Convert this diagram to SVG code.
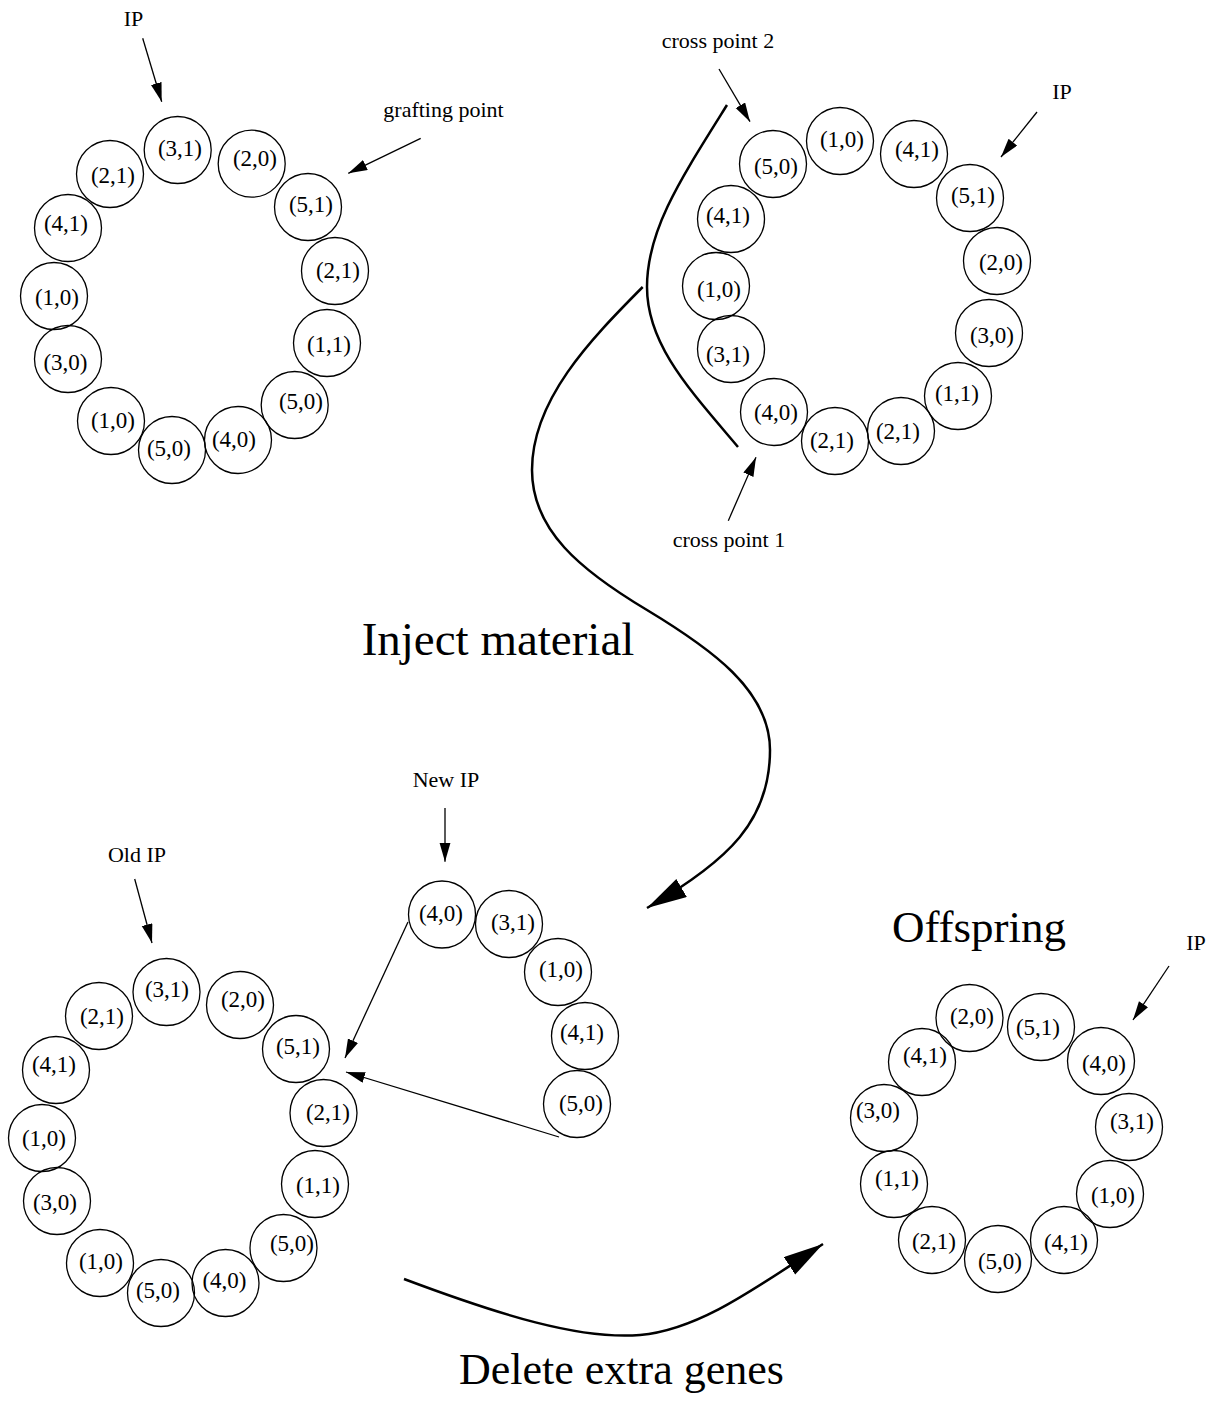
<svg xmlns="http://www.w3.org/2000/svg" width="1218" height="1417" viewBox="0 0 1218 1417">
<defs>
<style>
.g circle{fill:none;stroke:#000;stroke-width:1.3}
text{font-family:"Liberation Serif","Times New Roman",serif;fill:#000;text-anchor:middle}
.g text{font-size:23px}
.lbl{font-size:22px}
.big{font-size:47px}
.thin{fill:none;stroke:#000;stroke-width:1.3}
.thick{fill:none;stroke:#000;stroke-width:2.5}
</style>
<marker id="ah" markerUnits="userSpaceOnUse" markerWidth="20" markerHeight="12" refX="19" refY="5.5" orient="auto"><path d="M0,0 L19,5.5 L0,11 z" fill="#000"/></marker>
<marker id="ahb" markerUnits="userSpaceOnUse" markerWidth="42" markerHeight="22" refX="40" refY="10.5" orient="auto"><path d="M0,0 L40,10.5 L0,21 z" fill="#000"/></marker>
</defs>
<rect width="1218" height="1417" fill="#fff"/>

<g id="ring-parent1" class="g">
<circle cx="177.7" cy="150" r="33.5"/><text x="180" y="156">(3,1)</text>
<circle cx="251.7" cy="163.7" r="33.5"/><text x="255" y="166">(2,0)</text>
<circle cx="308" cy="207" r="33.5"/><text x="311" y="212">(5,1)</text>
<circle cx="335" cy="271" r="33.5"/><text x="338" y="278">(2,1)</text>
<circle cx="327" cy="343" r="33.5"/><text x="329" y="352">(1,1)</text>
<circle cx="294.7" cy="405" r="33.5"/><text x="301" y="409">(5,0)</text>
<circle cx="238" cy="440" r="33.5"/><text x="234" y="447">(4,0)</text>
<circle cx="172" cy="450" r="33.5"/><text x="169" y="456">(5,0)</text>
<circle cx="111" cy="421" r="33.5"/><text x="113" y="428">(1,0)</text>
<circle cx="68" cy="359" r="33.5"/><text x="65.5" y="370">(3,0)</text>
<circle cx="54" cy="296" r="33.5"/><text x="57" y="305">(1,0)</text>
<circle cx="68" cy="228" r="33.5"/><text x="66" y="231">(4,1)</text>
<circle cx="110" cy="174" r="33.5"/><text x="113" y="183">(2,1)</text>
</g>

<g id="ring-parent2" class="g">
<circle cx="773" cy="164" r="33.5"/><text x="776" y="174">(5,0)</text>
<circle cx="840" cy="141" r="33.5"/><text x="842" y="147">(1,0)</text>
<circle cx="914" cy="154" r="33.5"/><text x="917" y="157">(4,1)</text>
<circle cx="970" cy="198" r="33.5"/><text x="973" y="203">(5,1)</text>
<circle cx="997" cy="261" r="33.5"/><text x="1001" y="270">(2,0)</text>
<circle cx="989" cy="333" r="33.5"/><text x="992" y="343">(3,0)</text>
<circle cx="958" cy="396" r="33.5"/><text x="957" y="401">(1,1)</text>
<circle cx="901" cy="431" r="33.5"/><text x="898" y="439">(2,1)</text>
<circle cx="835" cy="441" r="33.5"/><text x="832" y="448">(2,1)</text>
<circle cx="774" cy="412" r="33.5"/><text x="776" y="420">(4,0)</text>
<circle cx="731" cy="349" r="33.5"/><text x="728" y="362">(3,1)</text>
<circle cx="716" cy="286" r="33.5"/><text x="719" y="297">(1,0)</text>
<circle cx="731" cy="219" r="33.5"/><text x="728" y="223">(4,1)</text>
</g>

<g id="ring-old" class="g">
<circle cx="166.5" cy="992" r="33.5"/><text x="167" y="997">(3,1)</text>
<circle cx="240" cy="1005" r="33.5"/><text x="243" y="1007">(2,0)</text>
<circle cx="296" cy="1049" r="33.5"/><text x="298" y="1054">(5,1)</text>
<circle cx="323.5" cy="1113" r="33.5"/><text x="328" y="1120">(2,1)</text>
<circle cx="315" cy="1184" r="33.5"/><text x="318" y="1193">(1,1)</text>
<circle cx="283.5" cy="1248" r="33.5"/><text x="292" y="1251">(5,0)</text>
<circle cx="225.5" cy="1283" r="33.5"/><text x="224.5" y="1288">(4,0)</text>
<circle cx="161" cy="1293" r="33.5"/><text x="158" y="1298">(5,0)</text>
<circle cx="100" cy="1263" r="33.5"/><text x="101" y="1269">(1,0)</text>
<circle cx="57" cy="1201" r="33.5"/><text x="55" y="1210">(3,0)</text>
<circle cx="42" cy="1138" r="33.5"/><text x="44" y="1146">(1,0)</text>
<circle cx="56" cy="1070" r="33.5"/><text x="54" y="1072">(4,1)</text>
<circle cx="99" cy="1016" r="33.5"/><text x="102" y="1024">(2,1)</text>
</g>

<g id="ring-injected" class="g">
<circle cx="442" cy="914.5" r="33.5"/><text x="441" y="921">(4,0)</text>
<circle cx="509" cy="924" r="33.5"/><text x="513" y="930">(3,1)</text>
<circle cx="558" cy="972" r="33.5"/><text x="561" y="977">(1,0)</text>
<circle cx="585" cy="1036" r="33.5"/><text x="582" y="1040">(4,1)</text>
<circle cx="577" cy="1104" r="33.5"/><text x="581" y="1111">(5,0)</text>
</g>

<g id="ring-offspring" class="g">
<circle cx="969.5" cy="1018" r="33.5"/><text x="972" y="1024">(2,0)</text>
<circle cx="1041" cy="1027" r="33.5"/><text x="1038" y="1035">(5,1)</text>
<circle cx="1101" cy="1061" r="33.5"/><text x="1104" y="1071">(4,0)</text>
<circle cx="1129" cy="1127" r="33.5"/><text x="1132" y="1129">(3,1)</text>
<circle cx="1110" cy="1194" r="33.5"/><text x="1113" y="1203">(1,0)</text>
<circle cx="1064" cy="1240" r="33.5"/><text x="1066" y="1250">(4,1)</text>
<circle cx="998" cy="1259" r="33.5"/><text x="1000" y="1269">(5,0)</text>
<circle cx="932" cy="1240" r="33.5"/><text x="934" y="1249">(2,1)</text>
<circle cx="894" cy="1184" r="33.5"/><text x="897" y="1186">(1,1)</text>
<circle cx="884" cy="1118" r="33.5"/><text x="878" y="1118">(3,0)</text>
<circle cx="922" cy="1062" r="33.5"/><text x="925" y="1063">(4,1)</text>
</g>

<g id="labels">
<text class="lbl" x="133.5" y="26">IP</text>
<text class="lbl" x="443.5" y="117">grafting point</text>
<text class="lbl" x="718" y="48">cross point 2</text>
<text class="lbl" x="1062" y="99">IP</text>
<text class="lbl" x="729" y="547">cross point 1</text>
<text class="lbl" x="446" y="787">New IP</text>
<text class="lbl" x="137" y="862">Old IP</text>
<text class="lbl" x="1196" y="950">IP</text>
<text class="big" x="498" y="655">Inject material</text>
<text class="big" x="979" y="942" style="font-size:45px">Offspring</text>
<text class="big" x="621.5" y="1384" style="font-size:44px">Delete extra genes</text>
</g>

<g id="connectors">
<line class="thin" x1="142.7" y1="38.3" x2="161.7" y2="101.7" marker-end="url(#ah)"/>
<line class="thin" x1="420.7" y1="138.3" x2="348.3" y2="173.3" marker-end="url(#ah)"/>
<line class="thin" x1="719" y1="69" x2="750" y2="121.7" marker-end="url(#ah)"/>
<line class="thin" x1="1037" y1="112" x2="1001" y2="157" marker-end="url(#ah)"/>
<line class="thin" x1="728.3" y1="520.7" x2="756" y2="457.3" marker-end="url(#ah)"/>
<line class="thin" x1="445" y1="808" x2="445" y2="861.7" marker-end="url(#ah)"/>
<line class="thin" x1="134.7" y1="879" x2="152" y2="943" marker-end="url(#ah)"/>
<line class="thin" x1="1169" y1="966" x2="1133" y2="1020" marker-end="url(#ah)"/>
<line class="thin" x1="408" y1="922" x2="345" y2="1058" marker-end="url(#ah)"/>
<line class="thin" x1="559" y1="1137" x2="346" y2="1072" marker-end="url(#ah)"/>
<path class="thick" d="M727,105 C680,180 647,230 647,287 C647,345 690,390 738,447"/>
<path class="thick" d="M642.7,287 C590,340 532,400 532,470 C532,530 580,570 647,610 C710,648 770,690 770,750 C770,820 730,860 647,908" marker-end="url(#ahb)"/>
<path class="thick" d="M404,1279 C500,1315 580,1340 640,1335 C700,1330 760,1285 823,1244" marker-end="url(#ahb)"/>
</g>
</svg>
